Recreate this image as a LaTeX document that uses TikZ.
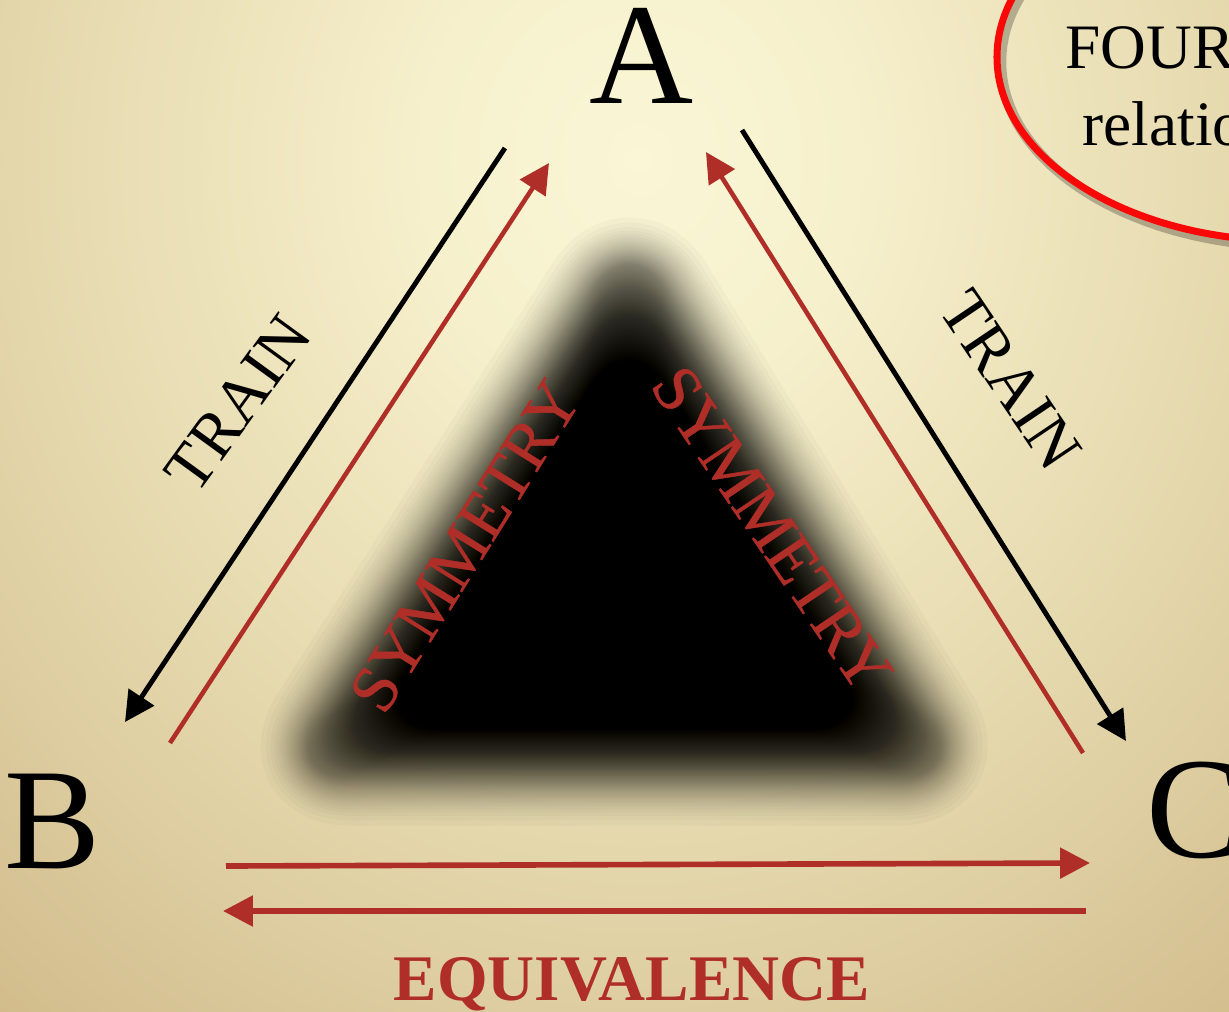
\documentclass[tikz,border=0pt]{standalone}
\usepackage{fontspec}
\setmainfont{Liberation Serif}
\newfontfamily\symfont[FakeBold=0.7]{Liberation Serif}
\usetikzlibrary{arrows.meta}
\definecolor{rust}{RGB}{176,46,40}
\definecolor{ringred}{RGB}{250,8,8}
\definecolor{bglight}{RGB}{250,246,214}
\definecolor{bgmid}{RGB}{246,240,204}
\definecolor{bgtan}{RGB}{226,212,168}
\definecolor{bgdark}{RGB}{210,188,140}
\pgfdeclareradialshading{parchment}{\pgfpoint{0bp}{0bp}}{color(0bp)=(bglight); color(4bp)=(bgmid); color(12.5bp)=(bgtan); color(18.5bp)=(bgdark); color(50bp)=(bgdark)}

\begin{document}
\begin{tikzpicture}[x=0.01cm, y=-0.01cm,
  vertex/.style={font=\fontsize{41}{44}\selectfont, inner sep=0pt, anchor=base},
  sidelabel/.style={font=\fontsize{18.5}{20}\selectfont, inner sep=0pt},
  symlabel/.style={font=\symfont\fontsize{19}{21}\selectfont, inner sep=0pt, text=rust},
  trainarrow/.style={-{Triangle[length=8.5pt, width=8.5pt]}, line width=1.4pt, black},
  symarrow/.style={-{Triangle[length=8.5pt, width=8.5pt]}, line width=1.3pt, rust},
  eqarrow/.style={symarrow, line width=1.6pt}
]

% Background
\path[use as bounding box] (0,0) rectangle (1229,1011);
\clip (0,0) rectangle (1229,1011);
\shade[shading=parchment] (640,160) ellipse [x radius=1350, y radius=1500];

% Blurred dark triangle
\begin{scope}[shift={(627.2,587.8)}]
  \foreach \k in {4,...,123}{
    \pgfmathsetmacro{\z}{-ln(exp((\k-0.5)*0.0253)-1)/1.7}
    \ifdim \z pt>0pt
      \pgfmathsetmacro{\lw}{\z*19.35}
      \begin{scope}[transparency group, opacity=0.025]
        \filldraw[black, line width=\lw pt, line join=round, rounded corners=20pt]
          (2.8,-357.8) -- (-347.2,190.2) -- (340.8,190.2) -- cycle;
      \end{scope}
    \else
      \pgfmathsetmacro{\s}{1 + \z*34/190.2}
      \fill[black, opacity=0.025, rounded corners=20pt, scale=\s]
        (2.8,-357.8) -- (-347.2,190.2) -- (340.8,190.2) -- cycle;
    \fi
  }
  \fill[black, rounded corners=14pt, scale=0.678]
    (2.8,-357.8) -- (-347.2,190.2) -- (340.8,190.2) -- cycle;
\end{scope}

% Vertices
\node[vertex] (A) at (642,103) {A};
\node[vertex] (B) at (53,868) {B};
\node[vertex] (C) at (1195,857) {C};

% Arrow ends
\coordinate (ab1) at (505,148);
\coordinate (ab2) at (125,722);
\coordinate (ba1) at (170,743);
\coordinate (ba2) at (549,163);
\coordinate (ac1) at (742,130);
\coordinate (ac2) at (1126,741);
\coordinate (ca1) at (1083,753);
\coordinate (ca2) at (706,152);
\coordinate (bc1) at (226,866);
\coordinate (bc2) at (1090,863);
\coordinate (cb1) at (1086,911);
\coordinate (cb2) at (223,911);

% Arrows
\draw[trainarrow] (ab1) -- (ab2);
\draw[symarrow] (ba1) -- (ba2);
\draw[trainarrow] (ac1) -- (ac2);
\draw[symarrow] (ca1) -- (ca2);
\draw[eqarrow] (bc1) -- (bc2);
\draw[eqarrow] (cb1) -- (cb2);

% Labels
\node[sidelabel, rotate=54] (trainab) at (238,403) {TRAIN};
\node[sidelabel, rotate=-56] (trainac) at (1011,380) {TRAIN};
\node[symlabel, rotate=58] (symab) at (465,546) {SYMMETRY};
\node[symlabel, rotate=-56] (symac) at (772,529) {SYMMETRY};
\node[font=\bfseries\fontsize{18.5}{20}\selectfont, text=rust,
  anchor=base, inner sep=0pt] (equiv) at (632,1000) {EQUIVALENCE};

% Note ring (top right)
\draw[black, opacity=0.25, line width=3pt] (1294,62) ellipse [x radius=293, y radius=184];
\draw[ringred, line width=2pt] (1290,57) ellipse [x radius=293, y radius=184];
\node[font=\fontsize{18}{20}\selectfont, anchor=base west, inner sep=0pt] (four) at (1065,68) {FOUR};
\node[font=\fontsize{18}{20}\selectfont, anchor=base west, inner sep=0pt] (rel) at (1082,145) {relations};

\end{tikzpicture}
\end{document}
